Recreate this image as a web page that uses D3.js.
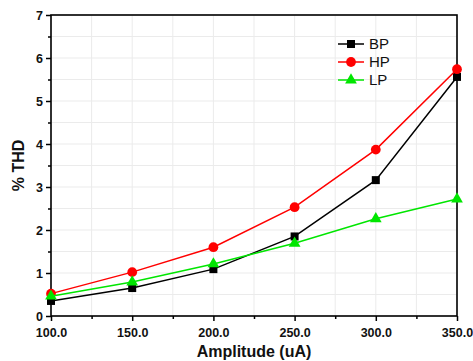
<!DOCTYPE html>
<html>
<head>
<meta charset="utf-8">
<script src="https://cdn.jsdelivr.net/npm/d3@7"></script>
<style>
  body { margin: 0; background: #fff; }
  text { font-family: "Liberation Sans", Arial, sans-serif; }
</style>
</head>
<body>
<div id="thdChart"></div>
<script>
// chart values
var amplitudes = [100, 150, 200, 250, 300, 350];
var bpValues = [0.35, 0.65, 1.09, 1.85, 3.16, 5.56];
var hpValues = [0.52, 1.02, 1.60, 2.53, 3.87, 5.74];
var lpValues = [0.46, 0.79, 1.21, 1.69, 2.26, 2.72];
var seriesNames = ["BP", "HP", "LP"];
var xTicks = [100, 150, 200, 250, 300, 350];
var yTicks = [0, 1, 2, 3, 4, 5, 6, 7];

var width = 473;
var height = 361;
var margin = {top: 15, right: 16, bottom: 45, left: 51};

var svg = d3.select("#thdChart")
            .append("svg")
            .attr("width", width)
            .attr("height", height);

var x = d3.scaleLinear()
    .domain([100, 350])
    .range([margin.left, width - margin.right]);

var y = d3.scaleLinear()
    .domain([0, 7])
    .range([height - margin.bottom, margin.top]);

var color = d3.scaleOrdinal()
    .domain(seriesNames)
    .range(["#000000", "#ff0000", "#00e600"]);

var series = [
  {name: "BP", values: bpValues, shape: d3.symbolSquare, size: 64},
  {name: "HP", values: hpValues, shape: d3.symbolCircle, size: 75},
  {name: "LP", values: lpValues, shape: d3.symbolTriangle, size: 60}
];

// light grid at every major and minor tick
var grid = svg.append("g");
d3.range(100, 351, 25).forEach(function(v){
  grid.append("line")
      .attr("x1", x(v)).attr("x2", x(v))
      .attr("y1", y(0)).attr("y2", y(7))
      .attr("stroke", "#ebebeb").attr("stroke-width", 1);
});
d3.range(0, 7.01, 0.5).forEach(function(v){
  grid.append("line")
      .attr("x1", x(100)).attr("x2", x(350))
      .attr("y1", y(v)).attr("y2", y(v))
      .attr("stroke", "#ebebeb").attr("stroke-width", 1);
});

// axes
var xAxis = svg.append("g")
   .attr("transform", "translate(0," + y(0) + ")")
   .call(d3.axisBottom(x).tickValues(xTicks).tickSize(5).tickFormat(d3.format(".1f")));

var xMinor = svg.append("g")
   .attr("transform", "translate(0," + y(0) + ")")
   .call(d3.axisBottom(x).tickValues([125, 175, 225, 275, 325]).tickSize(3).tickFormat(""));

var yAxis = svg.append("g")
   .attr("transform", "translate(" + x(100) + ",0)")
   .call(d3.axisLeft(y).tickValues(yTicks).tickSize(5).tickFormat(d3.format("d")));

var yMinor = svg.append("g")
   .attr("transform", "translate(" + x(100) + ",0)")
   .call(d3.axisLeft(y).tickValues([0.5, 1.5, 2.5, 3.5, 4.5, 5.5, 6.5]).tickSize(3).tickFormat(""));

[xAxis, xMinor, yAxis, yMinor].forEach(function(a){
  a.select(".domain").remove();
  a.selectAll("line").attr("stroke", "#000").attr("stroke-width", 1.5);
  a.selectAll("text")
   .attr("fill", "#111")
   .style("font-size", "12.5px")
   .style("font-weight", "bold");
});
xAxis.selectAll("text").attr("dy", "1.05em");

// frame
svg.append("rect")
   .attr("x", x(100)).attr("y", y(7))
   .attr("width", x(350) - x(100))
   .attr("height", y(0) - y(7))
   .attr("fill", "none")
   .attr("stroke", "#000")
   .attr("stroke-width", 1.6);

// lines + markers
var line = d3.line()
    .x(function(d, i){ return x(amplitudes[i]); })
    .y(function(d){ return y(d); });

series.forEach(function(s){
  svg.append("path")
     .datum(s.values)
     .attr("d", line)
     .attr("fill", "none")
     .attr("stroke", color(s.name))
     .attr("stroke-width", 1.5);

  svg.selectAll("marks" + s.name)
     .data(s.values)
     .enter()
     .append("path")
     .attr("d", d3.symbol().type(s.shape).size(s.size))
     .attr("transform", function(d, i){ return "translate(" + x(amplitudes[i]) + "," + y(d) + ")"; })
     .attr("fill", color(s.name));
});

// legend
var legend = svg.append("g");
series.forEach(function(s, i){
  var ly = 44 + i * 18;
  legend.append("line")
        .attr("x1", 338).attr("x2", 364)
        .attr("y1", ly).attr("y2", ly)
        .attr("stroke", color(s.name))
        .attr("stroke-width", 1.5);
  legend.append("path")
        .attr("d", d3.symbol().type(s.shape).size(s.size))
        .attr("transform", "translate(351," + ly + ")")
        .attr("fill", color(s.name));
  legend.append("text")
        .attr("x", 369).attr("y", ly)
        .attr("dy", "0.36em")
        .style("font-size", "15px")
        .attr("fill", "#111")
        .text(s.name);
});

// axis titles
svg.append("text")
   .attr("text-anchor", "middle")
   .attr("x", (x(100) + x(350)) / 2)
   .attr("y", 357)
   .style("font-size", "16px")
   .style("font-weight", "bold")
   .attr("fill", "#111")
   .text("Amplitude (uA)");

svg.append("text")
   .attr("text-anchor", "middle")
   .attr("transform", "translate(24," + ((y(0) + y(7)) / 2) + ") rotate(-90)")
   .style("font-size", "16px")
   .style("font-weight", "bold")
   .attr("fill", "#111")
   .text("% THD");
</script>
</body>
</html>
